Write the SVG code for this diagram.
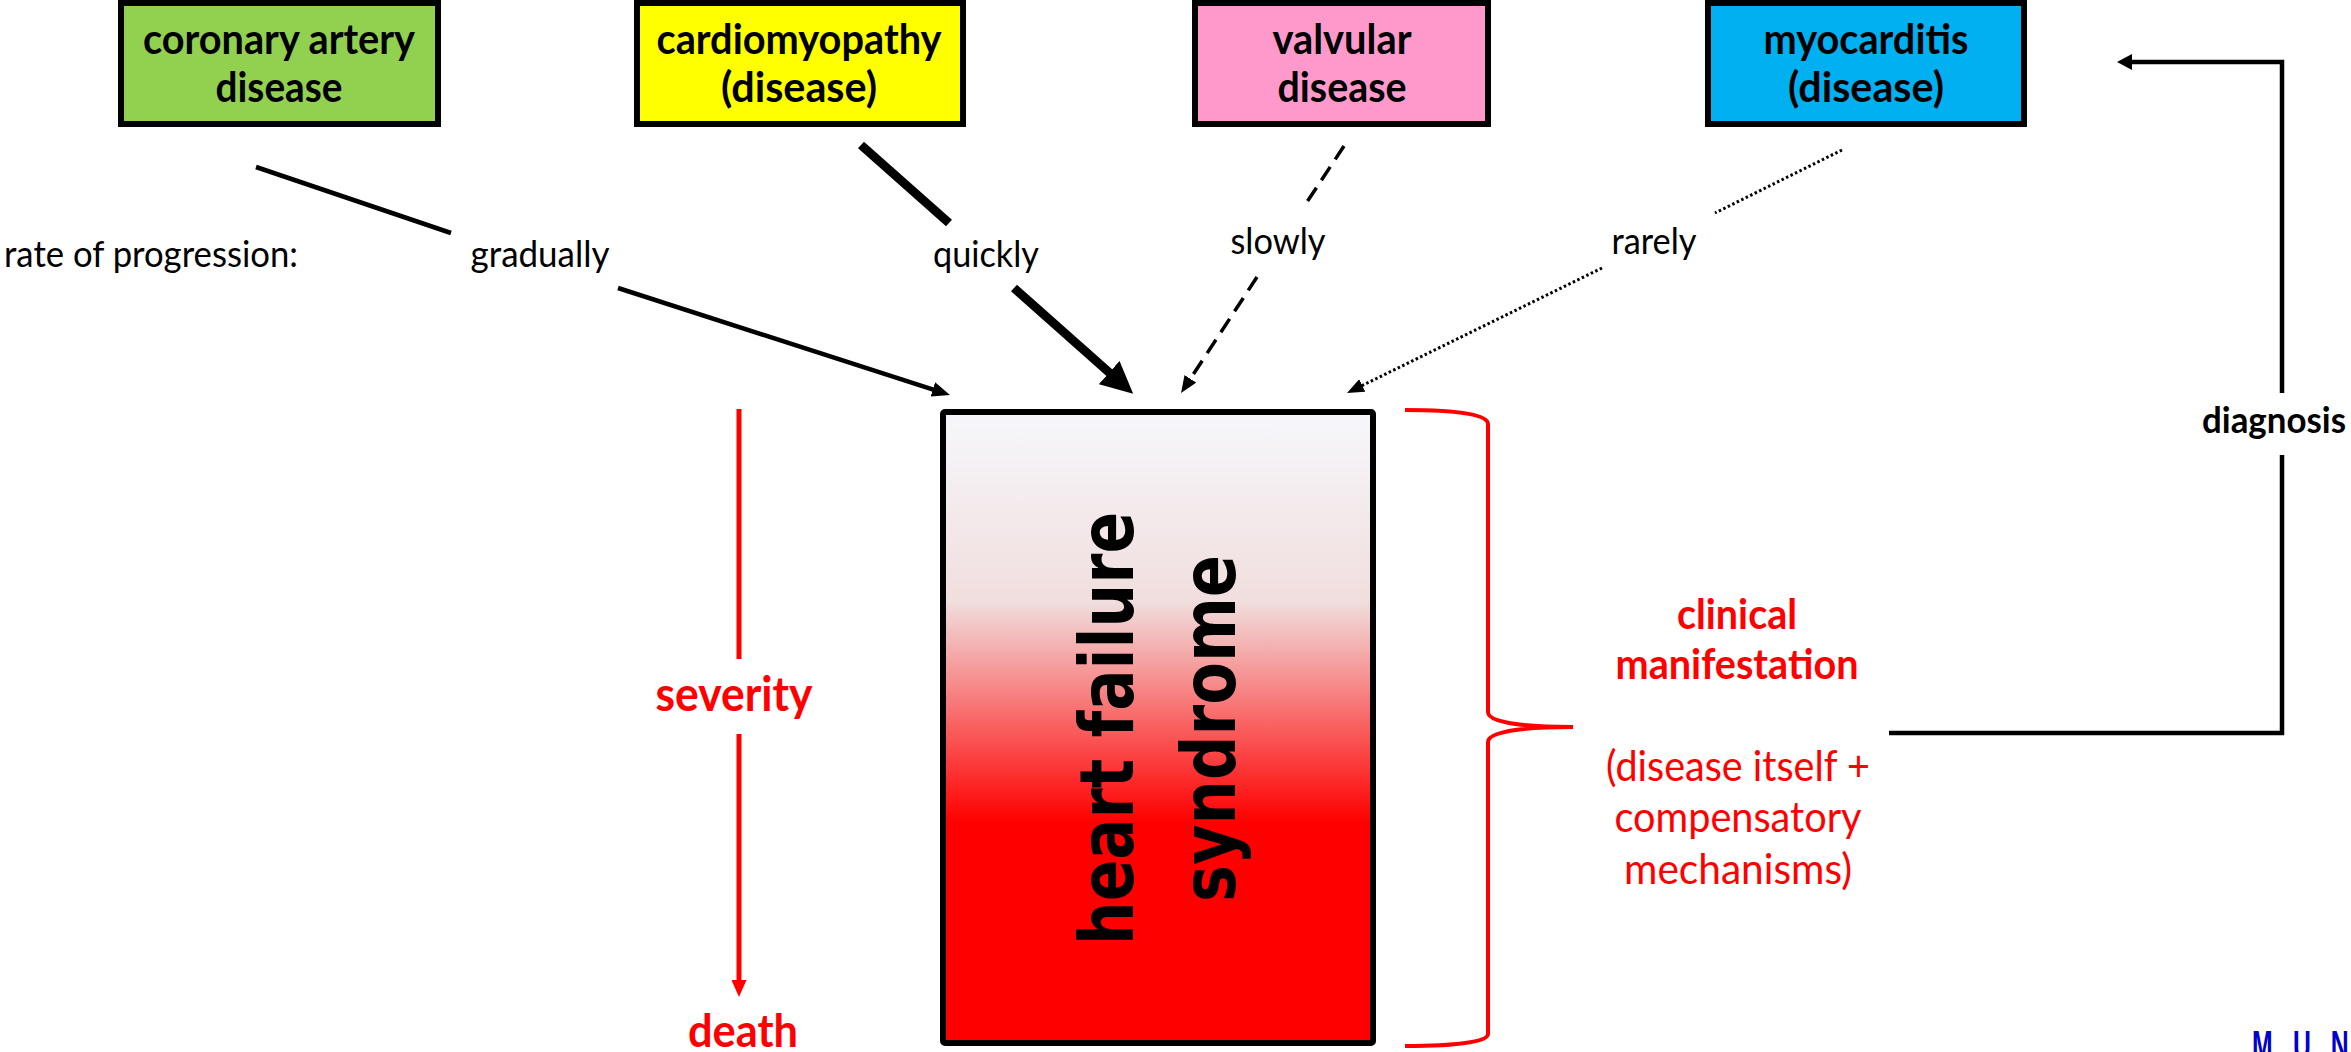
<svg xmlns="http://www.w3.org/2000/svg" width="2351" height="1052" viewBox="0 0 2351 1052">
<style>
.box{stroke:#000;stroke-width:6}
.bl{font-family:Lato,"Liberation Sans",sans-serif;font-weight:bold;font-size:42px;fill:#000;text-anchor:middle}
.lb{font-family:Lato,"Liberation Sans",sans-serif;font-size:37px;fill:#000;text-anchor:middle}
.rb{font-family:Lato,"Liberation Sans",sans-serif;font-weight:bold;fill:#FF0000;text-anchor:middle}
.rr{font-family:Lato,"Liberation Sans",sans-serif;font-size:42px;fill:#FF0000;text-anchor:middle}
.hf{font-family:"DejaVu Sans Condensed","DejaVu Sans",sans-serif;font-weight:bold;font-size:74px;fill:#000;text-anchor:middle}
.ln{fill:none;stroke:#000}
.red{fill:none;stroke:#FF0000}
</style>
<defs>
<linearGradient id="hfg" x1="0" y1="0" x2="0" y2="1">
<stop offset="0" stop-color="#F6F7FB"/>
<stop offset="0.3" stop-color="#F1DEDE"/>
<stop offset="0.65" stop-color="#FF0000"/>
<stop offset="1" stop-color="#FF0000"/>
</linearGradient>
<marker id="m1" viewBox="0 0 18 15" refX="7" refY="7.5" markerWidth="18" markerHeight="15" markerUnits="userSpaceOnUse" orient="auto"><path d="M0,0 L18,7.5 L0,15 z" fill="#000"/></marker>
<marker id="m2" viewBox="0 0 32 31" refX="12" refY="15.5" markerWidth="32" markerHeight="31" markerUnits="userSpaceOnUse" orient="auto"><path d="M0,0 L32,15.5 L0,31 z" fill="#000"/></marker>
<marker id="m3" viewBox="0 0 17 14" refX="6" refY="7" markerWidth="17" markerHeight="14" markerUnits="userSpaceOnUse" orient="auto"><path d="M0,0 L17,7 L0,14 z" fill="#000"/></marker>
<marker id="m5" viewBox="0 0 15 16" refX="5" refY="8" markerWidth="15" markerHeight="16" markerUnits="userSpaceOnUse" orient="auto"><path d="M0,0 L15,8 L0,16 z" fill="#000"/></marker>
<marker id="m6" viewBox="0 0 17 15" refX="6" refY="7.5" markerWidth="17" markerHeight="15" markerUnits="userSpaceOnUse" orient="auto"><path d="M0,0 L17,7.5 L0,15 z" fill="#FF0000"/></marker>
</defs>
<rect x="0" y="0" width="2351" height="1052" fill="#FFFFFF"/>

<g id="cad">
<rect class="box" x="121" y="3" width="317" height="121" fill="#92D050"/>
<text class="bl" x="279" y="54" textLength="272" lengthAdjust="spacingAndGlyphs">coronary artery</text>
<text class="bl" x="279" y="102" textLength="127" lengthAdjust="spacingAndGlyphs">disease</text>
</g>
<g id="cardiomyopathy">
<rect class="box" x="637" y="3" width="326" height="121" fill="#FFFF00"/>
<text class="bl" x="799" y="54" textLength="285" lengthAdjust="spacingAndGlyphs">cardiomyopathy</text>
<text class="bl" x="799" y="102" textLength="156" lengthAdjust="spacingAndGlyphs">(disease)</text>
</g>
<g id="valvular">
<rect class="box" x="1195" y="3" width="293" height="121" fill="#FF99CC"/>
<text class="bl" x="1342" y="54" textLength="139" lengthAdjust="spacingAndGlyphs">valvular</text>
<text class="bl" x="1342" y="102" textLength="129" lengthAdjust="spacingAndGlyphs">disease</text>
</g>
<g id="myocarditis">
<rect class="box" x="1708" y="3" width="316" height="121" fill="#00B0F0"/>
<text class="bl" x="1866" y="54" textLength="205" lengthAdjust="spacingAndGlyphs">myocarditis</text>
<text class="bl" x="1866" y="102" textLength="156" lengthAdjust="spacingAndGlyphs">(disease)</text>
</g>

<g id="hf-syndrome">
<rect x="943" y="412" width="430" height="631" rx="2" fill="url(#hfg)" stroke="#000" stroke-width="6"/>
<text class="hf" transform="translate(1133,728.5) rotate(-90)" x="0" y="0" textLength="433" lengthAdjust="spacingAndGlyphs">heart failure</text>
<text class="hf" transform="translate(1235,728.5) rotate(-90)" x="0" y="0" textLength="347" lengthAdjust="spacingAndGlyphs">syndrome</text>
</g>

<g id="labels">
<text class="lb" x="4" y="267" style="text-anchor:start" textLength="294" lengthAdjust="spacingAndGlyphs">rate of progression:</text>
<text class="lb" x="540" y="267" textLength="139" lengthAdjust="spacingAndGlyphs">gradually</text>
<text class="lb" x="986" y="267" textLength="106" lengthAdjust="spacingAndGlyphs">quickly</text>
<text class="lb" x="1278" y="254" textLength="95" lengthAdjust="spacingAndGlyphs">slowly</text>
<text class="lb" x="1654" y="254" textLength="85" lengthAdjust="spacingAndGlyphs">rarely</text>
<text class="rb" x="734" y="711" font-size="47" textLength="157" lengthAdjust="spacingAndGlyphs">severity</text>
<text class="rb" x="743" y="1047" font-size="46" textLength="110" lengthAdjust="spacingAndGlyphs">death</text>
<text class="rb" x="1737" y="629" font-size="42" textLength="120" lengthAdjust="spacingAndGlyphs">clinical</text>
<text class="rb" x="1737" y="679" font-size="42" textLength="243" lengthAdjust="spacingAndGlyphs">manifestation</text>
<text class="rr" x="1738" y="781" textLength="264" lengthAdjust="spacingAndGlyphs">(disease itself +</text>
<text class="rr" x="1738" y="832" textLength="247" lengthAdjust="spacingAndGlyphs">compensatory</text>
<text class="rr" x="1738" y="884" textLength="228" lengthAdjust="spacingAndGlyphs">mechanisms)</text>
<text x="2274" y="433" style="font-family:Lato,'Liberation Sans',sans-serif;font-weight:bold;font-size:37px;text-anchor:middle" fill="#000" textLength="144" lengthAdjust="spacingAndGlyphs">diagnosis</text>
<text transform="translate(2252,1059) scale(0.62,1)" x="0 66 127" y="0" style="font-family:'Liberation Sans',sans-serif;font-weight:bold;font-size:40px" fill="#0000CC">MUN</text>
</g>

<g id="connectors">
<line class="ln" x1="256" y1="167" x2="451" y2="233" stroke-width="4.5"/>
<line class="ln" x1="618" y1="288" x2="939.5" y2="391.6" stroke-width="4.5" marker-end="url(#m1)"/>
<line class="ln" x1="861" y1="145" x2="949" y2="223" stroke-width="9"/>
<line class="ln" x1="1014" y1="288" x2="1118.2" y2="380.5" stroke-width="9" marker-end="url(#m2)"/>
<line class="ln" x1="1344" y1="146" x2="1303" y2="208" stroke-width="3.5" stroke-dasharray="16 9"/>
<line class="ln" x1="1257" y1="277" x2="1187.1" y2="383.8" stroke-width="3.5" stroke-dasharray="16 9" marker-end="url(#m3)"/>
<line class="ln" x1="1842" y1="150" x2="1715" y2="213" stroke-width="3" stroke-dasharray="2.5 2.5"/>
<line class="ln" x1="1602" y1="268" x2="1356.9" y2="388.1" stroke-width="3" stroke-dasharray="2.5 2.5" marker-end="url(#m3)"/>
<polyline class="ln" points="1889,733 2282,733 2282,455" stroke-width="4.5"/>
<polyline class="ln" points="2282,393 2282,62 2127,62" stroke-width="4.5" marker-end="url(#m5)"/>
<line class="red" x1="739" y1="409" x2="739" y2="659" stroke-width="5"/>
<line class="red" x1="739" y1="734" x2="739" y2="986" stroke-width="5" marker-end="url(#m6)"/>
<path class="red" d="M1405,410 C1455,410 1488,414 1488,424 L1488,712 C1488,722 1520,727 1573,727 C1520,727 1488,732 1488,742 L1488,1034 C1488,1042 1455,1046 1405,1046" stroke-width="4"/>
</g>
</svg>
